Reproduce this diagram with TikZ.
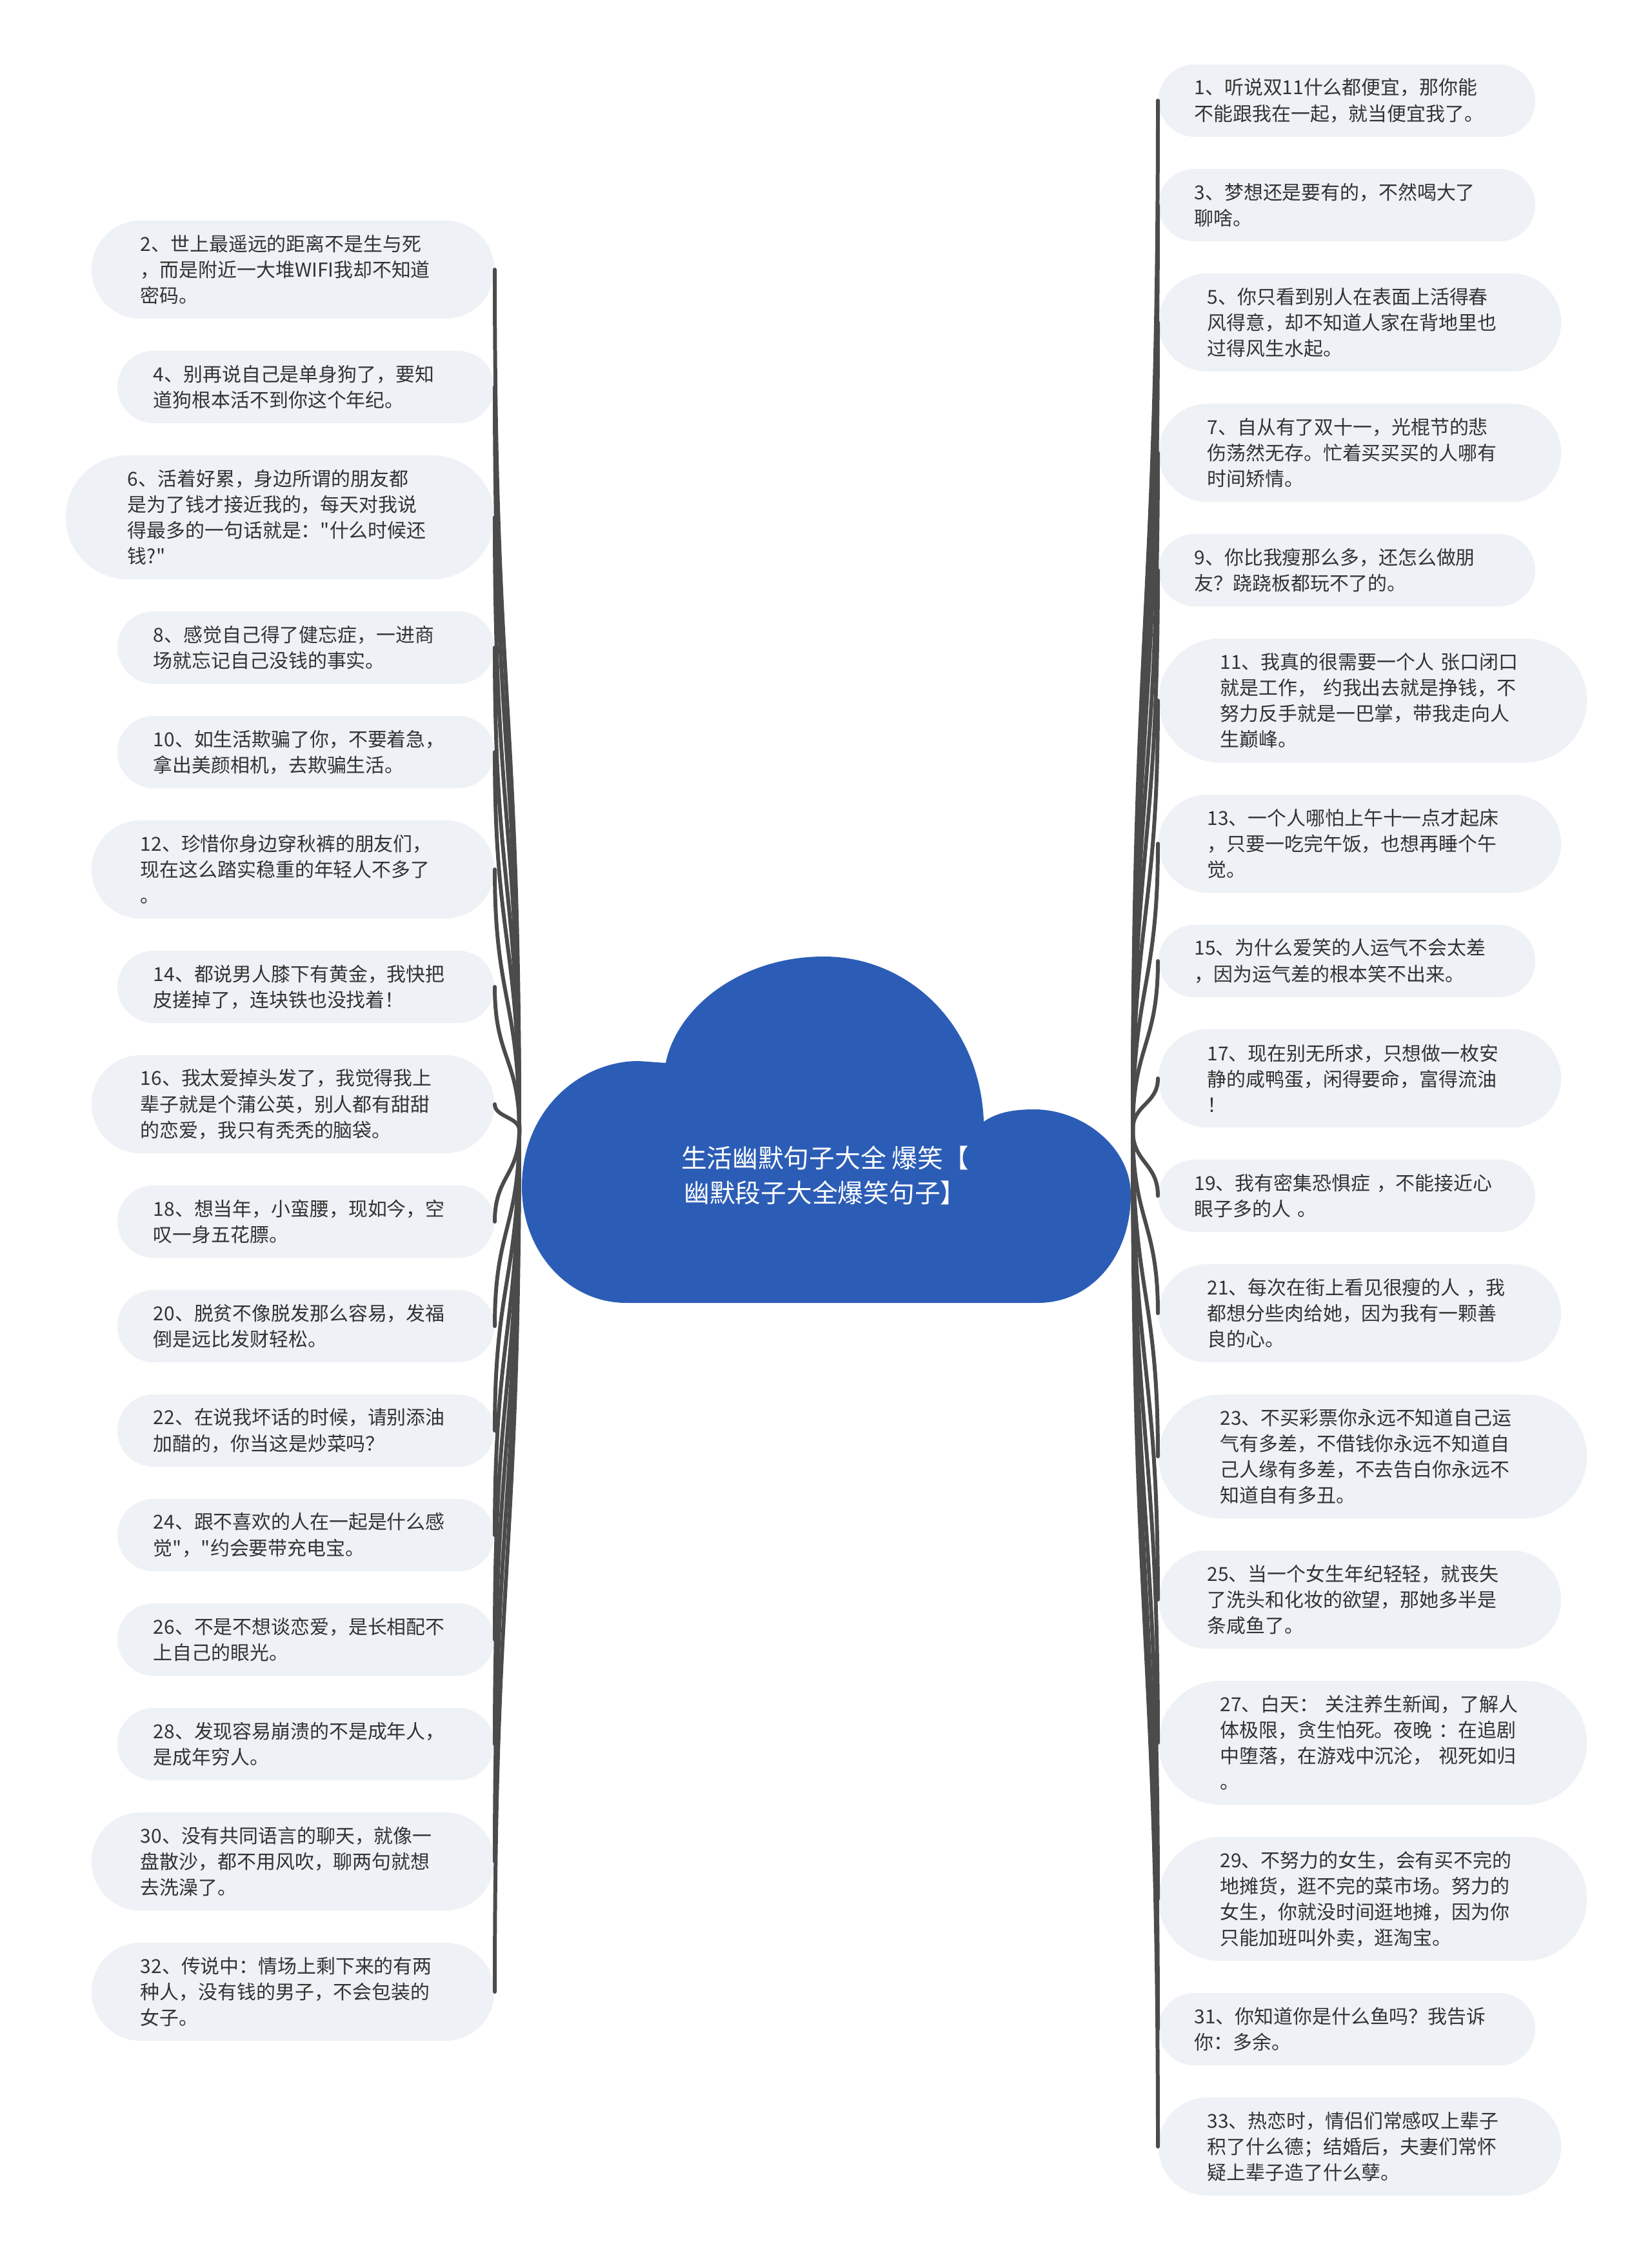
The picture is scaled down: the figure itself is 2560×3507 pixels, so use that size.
\documentclass[tikz,border=0pt]{standalone}
\usepackage{fontspec}
\setmainfont{Noto Sans CJK SC}[Ligatures=TeXOff]
\usetikzlibrary{calc}

\definecolor{cloudblue}{RGB}{44,93,182}
\definecolor{leafgray}{RGB}{238,241,245}
\definecolor{inkgray}{RGB}{51,51,51}
\definecolor{branchgray}{RGB}{75,75,75}

\begin{document}
\begin{tikzpicture}[
    x=0.01cm, y=-0.01cm, % one unit per pixel, y pointing down
    leaf/.style={fill=leafgray, text=inkgray, text width=4.72cm, align=left,
      minimum height=#1, inner xsep=0.5*#1, inner ysep=0pt,
      rounded corners=0.5*#1, font=\fontsize{8.5}{11.4}\selectfont}, % pill boxes
    leftleaf/.style={leaf=#1, anchor=east}, % boxes left of the cloud
    rightleaf/.style={leaf=#1, anchor=west}, % boxes right of the cloud
    root/.style={text=white, align=center, font=\fontsize{11.3}{15.3}\selectfont},
    branch/.style={draw=branchgray, line width=1.7pt, line cap=round} % connectors
]

    % Page
    \fill[white] (0,0) rectangle (2560,3507);
    \useasboundingbox (0,0) rectangle (2560,3507);

    % Cloud
    \fill[cloudblue] (1032,1648) .. controls (1050,1560) and (1150,1483) .. (1277,1483)
        .. controls (1410,1483) and (1520,1590) .. (1525,1739)
        .. controls (1545,1725) and (1570,1720) .. (1603,1720)
        .. controls (1680,1720) and (1753,1780) .. (1753,1852)
        .. controls (1753,1950) and (1690,2020) .. (1609,2020)
        -- (971,2020)
        .. controls (880,2020) and (809,1940) .. (809,1840)
        .. controls (809,1720) and (900,1645) .. (990,1645)
        -- cycle;
    \node[root] (root) at (1279,1822) {生活幽默句子大全 爆笑【\\幽默段子大全爆笑句子】};

    % Hubs where the branches meet
    \coordinate (hubL) at (805,1752);
    \coordinate (hubR) at (1756,1752);

    % Left column
    \node[leftleaf=1.52cm] (l2) at (767,418) {2、世上最遥远的距离不是生与死\\，而是附近一大堆WIFI我却不知道\\密码。};
    \node[leftleaf=1.12cm] (l4) at (767,600) {4、别再说自己是单身狗了，要知\\道狗根本活不到你这个年纪。};
    \node[leftleaf=1.92cm] (l6) at (767,802) {6、活着好累，身边所谓的朋友都\\是为了钱才接近我的，每天对我说\\得最多的一句话就是："什么时候还\\钱?"};
    \node[leftleaf=1.12cm] (l8) at (767,1004) {8、感觉自己得了健忘症，一进商\\场就忘记自己没钱的事实。};
    \node[leftleaf=1.12cm] (l10) at (767,1166) {10、如生活欺骗了你，不要着急，\\拿出美颜相机，去欺骗生活。};
    \node[leftleaf=1.52cm] (l12) at (767,1348) {12、珍惜你身边穿秋裤的朋友们，\\现在这么踏实稳重的年轻人不多了\\。};
    \node[leftleaf=1.12cm] (l14) at (767,1530) {14、都说男人膝下有黄金，我快把\\皮搓掉了，连块铁也没找着！};
    \node[leftleaf=1.52cm] (l16) at (767,1712) {16、我太爱掉头发了，我觉得我上\\辈子就是个蒲公英，别人都有甜甜\\的恋爱，我只有秃秃的脑袋。};
    \node[leftleaf=1.12cm] (l18) at (767,1894) {18、想当年，小蛮腰，现如今，空\\叹一身五花膘。};
    \node[leftleaf=1.12cm] (l20) at (767,2056) {20、脱贫不像脱发那么容易，发福\\倒是远比发财轻松。};
    \node[leftleaf=1.12cm] (l22) at (767,2218) {22、在说我坏话的时候，请别添油\\加醋的，你当这是炒菜吗？};
    \node[leftleaf=1.12cm] (l24) at (767,2380) {24、跟不喜欢的人在一起是什么感\\觉"，"约会要带充电宝。};
    \node[leftleaf=1.12cm] (l26) at (767,2542) {26、不是不想谈恋爱，是长相配不\\上自己的眼光。};
    \node[leftleaf=1.12cm] (l28) at (767,2704) {28、发现容易崩溃的不是成年人，\\是成年穷人。};
    \node[leftleaf=1.52cm] (l30) at (767,2886) {30、没有共同语言的聊天，就像一\\盘散沙，都不用风吹，聊两句就想\\去洗澡了。};
    \node[leftleaf=1.52cm] (l32) at (767,3088) {32、传说中：情场上剩下来的有两\\种人，没有钱的男子，不会包装的\\女子。};

    % Right column
    \node[rightleaf=1.12cm] (r1) at (1795,156) {1、听说双11什么都便宜，那你能\\不能跟我在一起，就当便宜我了。};
    \node[rightleaf=1.12cm] (r3) at (1795,318) {3、梦想还是要有的，不然喝大了\\聊啥。};
    \node[rightleaf=1.52cm] (r5) at (1795,500) {5、你只看到别人在表面上活得春\\风得意，却不知道人家在背地里也\\过得风生水起。};
    \node[rightleaf=1.52cm] (r7) at (1795,702) {7、自从有了双十一，光棍节的悲\\伤荡然无存。忙着买买买的人哪有\\时间矫情。};
    \node[rightleaf=1.12cm] (r9) at (1795,884) {9、你比我瘦那么多，还怎么做朋\\友？跷跷板都玩不了的。};
    \node[rightleaf=1.92cm] (r11) at (1795,1086) {11、我真的很需要一个人 张口闭口\\就是工作， 约我出去就是挣钱，不\\努力反手就是一巴掌，带我走向人\\生巅峰。};
    \node[rightleaf=1.52cm] (r13) at (1795,1308) {13、一个人哪怕上午十一点才起床\\，只要一吃完午饭，也想再睡个午\\觉。};
    \node[rightleaf=1.12cm] (r15) at (1795,1490) {15、为什么爱笑的人运气不会太差\\，因为运气差的根本笑不出来。};
    \node[rightleaf=1.52cm] (r17) at (1795,1672) {17、现在别无所求，只想做一枚安\\静的咸鸭蛋，闲得要命，富得流油\\！};
    \node[rightleaf=1.12cm] (r19) at (1795,1854) {19、我有密集恐惧症 ，不能接近心\\眼子多的人 。};
    \node[rightleaf=1.52cm] (r21) at (1795,2036) {21、每次在街上看见很瘦的人 ，我\\都想分些肉给她，因为我有一颗善\\良的心。};
    \node[rightleaf=1.92cm] (r23) at (1795,2258) {23、不买彩票你永远不知道自己运\\气有多差，不借钱你永远不知道自\\己人缘有多差，不去告白你永远不\\知道自有多丑。};
    \node[rightleaf=1.52cm] (r25) at (1795,2480) {25、当一个女生年纪轻轻，就丧失\\了洗头和化妆的欲望，那她多半是\\条咸鱼了。};
    \node[rightleaf=1.92cm] (r27) at (1795,2702) {27、白天： 关注养生新闻，了解人\\体极限，贪生怕死。夜晚 ：在追剧\\中堕落，在游戏中沉沦， 视死如归\\。};
    \node[rightleaf=1.92cm] (r29) at (1795,2944) {29、不努力的女生，会有买不完的\\地摊货，逛不完的菜市场。努力的\\女生，你就没时间逛地摊，因为你\\只能加班叫外卖，逛淘宝。};
    \node[rightleaf=1.12cm] (r31) at (1795,3146) {31、你知道你是什么鱼吗？我告诉\\你：多余。};
    \node[rightleaf=1.52cm] (r33) at (1795,3328) {33、热恋时，情侣们常感叹上辈子\\积了什么德；结婚后，夫妻们常怀\\疑上辈子造了什么孽。};

    % Branches
    \foreach \n in {l2,l4,l6,l8,l10,l12,l14,l16,l18,l20,l22,l24,l26,l28,l30,l32}
        \draw[branch] (\n.east) .. controls ($(\n.east)!0.5!(\n.east |- hubL)$)
            and ($(hubL)!0.5!(hubL |- \n.east)$) .. (hubL);
    \foreach \n in {r1,r3,r5,r7,r9,r11,r13,r15,r17,r19,r21,r23,r25,r27,r29,r31,r33}
        \draw[branch] (\n.west) .. controls ($(\n.west)!0.5!(\n.west |- hubR)$)
            and ($(hubR)!0.5!(hubR |- \n.west)$) .. (hubR);

\end{tikzpicture}
\end{document}
